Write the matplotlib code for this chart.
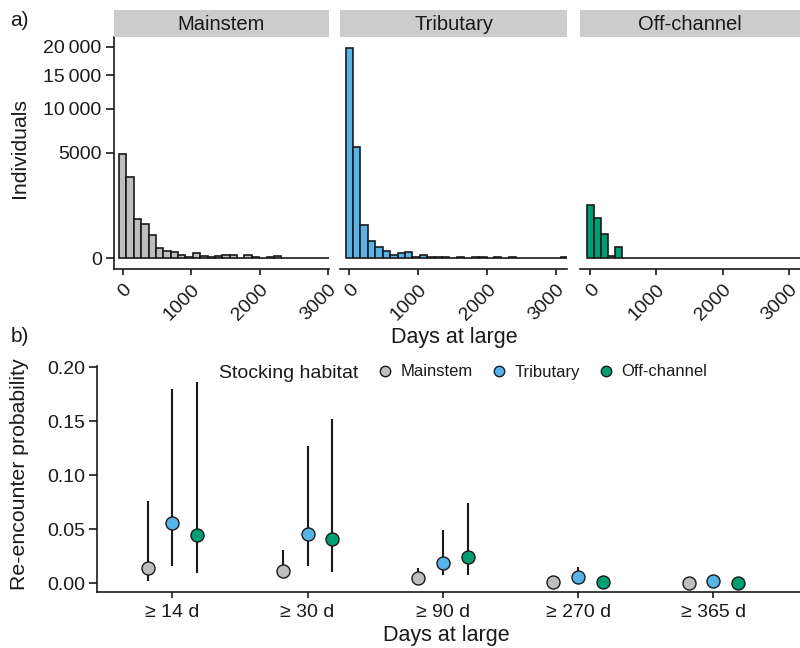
import numpy as np
import matplotlib
matplotlib.use('Agg')
import matplotlib.pyplot as plt
from matplotlib.lines import Line2D

plt.rcParams['font.family'] = ['Liberation Sans', 'DejaVu Sans']

# ----------------------------------------------------
# Data
# ----------------------------------------------------
habitats = ['Mainstem', 'Tributary', 'Off-channel']
colors = {'Mainstem': '#BEBEBE', 'Tributary': '#56B4E9', 'Off-channel': '#009E73'}

# a) histogram of days at large, 30 bins of equal width starting at 0
bin_width = 107.7
bin_centers = np.arange(30) * bin_width
mainstem_counts = [4840, 2980, 680, 527, 243, 45, 26, 18, 4, 1,
                   11, 2, 1, 2, 4, 4, 0, 5, 1, 0,
                   1, 2, 0, 0, 0, 0, 0, 0, 0, 0]
tributary_counts = [19790, 5510, 497, 134, 54, 26, 5, 14, 18, 1,
                    5, 1, 1, 1, 0, 1, 0, 1, 1, 0,
                    1, 0, 1, 0, 0, 0, 0, 0, 0, 1]
offchannel_counts = [1272, 716, 258, 2, 60, 0, 0, 0, 0, 0,
                     0, 0, 0, 0, 0, 0, 0, 0, 0, 0,
                     0, 0, 0, 0, 0, 0, 0, 0, 0, 0]
hist_counts = {'Mainstem': mainstem_counts, 'Tributary': tributary_counts,
               'Off-channel': offchannel_counts}
y_ticks = [0, 5000, 10000, 15000, 20000]
y_tick_labels = ['0', '5000', '10\u2009000', '15\u2009000', '20\u2009000']
x_ticks = [0, 1000, 2000, 3000]

# b) re-encounter probability with intervals
thresholds = ['\u2265 14 d', '\u2265 30 d', '\u2265 90 d', '\u2265 270 d', '\u2265 365 d']
mainstem_p = [0.0142, 0.0117, 0.0052, 0.0012, 0.0006]
mainstem_lo = [0.0024, 0.0046, 0.0010, 0.0003, 0.0001]
mainstem_hi = [0.0765, 0.0308, 0.0145, 0.0030, 0.0015]
tributary_p = [0.0556, 0.0459, 0.0188, 0.0062, 0.0024]
tributary_lo = [0.0163, 0.0163, 0.0074, 0.0020, 0.0006]
tributary_hi = [0.1796, 0.1274, 0.0494, 0.0148, 0.0070]
offchannel_p = [0.0444, 0.0407, 0.0241, 0.0009, 0.0003]
offchannel_lo = [0.0098, 0.0102, 0.0080, 0.0001, 0.0000]
offchannel_hi = [0.1864, 0.1518, 0.0747, 0.0040, 0.0020]
prob = {'Mainstem': (mainstem_p, mainstem_lo, mainstem_hi),
        'Tributary': (tributary_p, tributary_lo, tributary_hi),
        'Off-channel': (offchannel_p, offchannel_lo, offchannel_hi)}
dodge = {'Mainstem': -0.183, 'Tributary': 0.0, 'Off-channel': 0.183}

# ----------------------------------------------------
# Layout helpers (pixel boxes on an 800x648 canvas)
# ----------------------------------------------------
W, H = 800, 648
fig = plt.figure(figsize=(W / 100, H / 100), dpi=100)
ink = '#1a1a1a'


def px_axes(left, top, right, bottom):
    return fig.add_axes([left / W, 1 - bottom / H, (right - left) / W, (bottom - top) / H])


def sqrt_fwd(v):
    v = np.asarray(v, dtype=float)
    return np.sign(v) * np.sqrt(np.abs(v))


def sqrt_inv(v):
    v = np.asarray(v, dtype=float)
    return np.sign(v) * v ** 2


# ----------------------------------------------------
# a) histograms, one facet per habitat
# ----------------------------------------------------
panels = {'Mainstem': (113.5, 329.3, (-134, 3016)),
          'Tributary': (340, 567.3, (-135, 3164)),
          'Off-channel': (580, 800, (-155, 3172))}
top, bottom = 37, 269

for i, hab in enumerate(habitats):
    left, right, xlim = panels[hab]
    ax = px_axes(left, top, right, bottom)
    ax.bar(bin_centers, hist_counts[hab], width=bin_width, color=colors[hab],
           edgecolor=ink, linewidth=1.2, zorder=2)
    ax.set_yscale('function', functions=(sqrt_fwd, sqrt_inv))
    ax.set_ylim(sqrt_inv(-7.16), sqrt_inv(148.0))
    ax.set_xlim(*xlim)
    ax.set_xticks(x_ticks)
    ax.set_xticklabels([str(t) for t in x_ticks], rotation=45, ha='right', va='top',
                       rotation_mode='anchor')
    ax.tick_params(axis='x', length=4.5, width=1.2, color=ink, labelsize=14, pad=4,
                   labelcolor=ink)
    for s in ['top', 'right']:
        ax.spines[s].set_visible(False)
    ax.spines['bottom'].set_linewidth(1.2)
    ax.spines['bottom'].set_color(ink)
    if i == 0:
        ax.set_yticks(y_ticks)
        ax.set_yticklabels(y_tick_labels)
        ax.yaxis.set_minor_locator(matplotlib.ticker.NullLocator())
        ax.tick_params(axis='y', length=5.5, width=1.2, color=ink, labelsize=14, pad=3,
                       labelcolor=ink)
        ax.spines['left'].set_linewidth(1.2)
        ax.spines['left'].set_color(ink)
    else:
        ax.spines['left'].set_visible(False)
        ax.set_yticks([])
        ax.yaxis.set_minor_locator(matplotlib.ticker.NullLocator())

    # facet strip
    sax = px_axes(left, 10, right, 36.5)
    sax.set_facecolor('#cccccc')
    sax.set_xticks([])
    sax.set_yticks([])
    for s in sax.spines.values():
        s.set_visible(False)
    sax.text(0.5, 0.45, hab, ha='center', va='center', fontsize=14.5, color=ink,
             transform=sax.transAxes)

fig.text(19.5 / W, 1 - 148 / H, 'Individuals', rotation=90, ha='center', va='center',
         fontsize=15.3, color=ink)
fig.text(454 / W, 1 - 343.3 / H, 'Days at large', ha='center', va='baseline',
         fontsize=15.5, color=ink)
fig.text(10 / W, 1 - 20.3 / H, 'a)', ha='left', va='center', fontsize=15, color=ink)

# ----------------------------------------------------
# b) re-encounter probability
# ----------------------------------------------------
bx = px_axes(96.7, 366, 800, 592.3)
x = np.arange(len(thresholds))
for hab in habitats:
    p, lo, hi = prob[hab]
    bx.vlines(x + dodge[hab], lo, hi, color=ink, linewidth=1.5, zorder=2)
    bx.scatter(x + dodge[hab], p, s=88, facecolor=colors[hab], edgecolor=ink,
               linewidth=1.0, zorder=3)

bx.set_xlim(-0.559, 4.64)
bx.set_ylim(-0.00833, 0.2012)
bx.set_xticks(x)
bx.set_xticklabels(thresholds)
bx.set_yticks([0.0, 0.05, 0.10, 0.15, 0.20])
bx.set_yticklabels(['0.00', '0.05', '0.10', '0.15', '0.20'])
bx.tick_params(axis='x', length=4.5, width=1.2, color=ink, labelsize=14, pad=4,
               labelcolor=ink)
bx.tick_params(axis='y', length=5.5, width=1.2, color=ink, labelsize=14, pad=3,
               labelcolor=ink)
for s in ['top', 'right']:
    bx.spines[s].set_visible(False)
for s in ['left', 'bottom']:
    bx.spines[s].set_linewidth(1.2)
    bx.spines[s].set_color(ink)

fig.text(19.2 / W, 1 - 474 / H, 'Re-encounter probability', rotation=90, ha='center',
         va='center', fontsize=15.3, color=ink)
fig.text(446 / W, 1 - 641 / H, 'Days at large', ha='center', va='baseline',
         fontsize=15.5, color=ink)
fig.text(11 / W, 1 - 336.7 / H, 'b)', ha='left', va='center', fontsize=15, color=ink)

# legend: title on the left, keys in one row
fig.text(219 / W, 1 - 378.3 / H, 'Stocking habitat', ha='left', va='baseline',
         fontsize=14, color=ink)
handles = [Line2D([], [], marker='o', linestyle='', markersize=7.5,
                  markerfacecolor=colors[h], markeredgecolor=ink, markeredgewidth=1.0)
           for h in habitats]
fig.legend(handles, habitats, ncol=3, loc='center left',
           bbox_to_anchor=(377 / W, 1 - 372 / H), frameon=False, fontsize=12,
           handlelength=1.0, handletextpad=0.4, columnspacing=1.1,
           borderpad=0, borderaxespad=0, labelcolor=ink)

fig.savefig('out.png', dpi=100)
